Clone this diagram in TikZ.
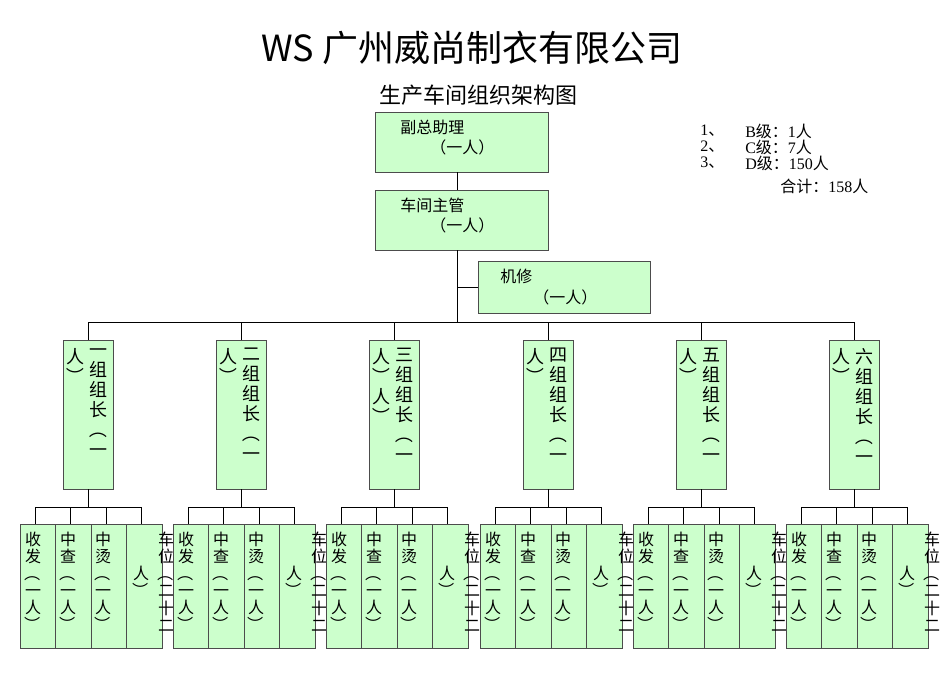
\documentclass[tikz,border=0pt]{standalone}
\usepackage{fontspec}
\usepackage{graphicx}
\setmainfont{Liberation Serif}
\newfontfamily\cjk{Noto Sans CJK SC}
\newcommand\vop{\rotatebox[origin=c]{-90}{（}}
\newcommand\vcp{\rotatebox[origin=c]{-90}{）}}
\begin{document}
\begin{tikzpicture}[x=0.75pt,y=-0.75pt,
  gbox/.style={draw=black!70,fill=green!20,line width=0.6pt,inner sep=0},
  conn/.style={draw=black,line width=0.6pt},
  txt/.style={font=\cjk\fontsize{12}{14}\selectfont,inner sep=0,anchor=west},
  vcw/.style={font=\cjk\fontsize{12}{12.8}\selectfont,inner sep=0,anchor=north,align=center},
  vcl/.style={font=\cjk\fontsize{13.5}{15}\selectfont,inner sep=0,anchor=north,align=center}]
\useasboundingbox (0,0) rectangle (950,672);
\node[font=\cjk\fontsize{27}{30}\selectfont] (title) at (472,48) {WS 广州威尚制衣有限公司};
\node[font=\cjk\fontsize{16.5}{18}\selectfont] (sub) at (478,95) {生产车间组织架构图};
% top boxes
\node[gbox,minimum width=129.75pt,minimum height=45pt] (fz) at (461.5,142) {};
\node[txt] at (400,127) {副总助理};
\node[txt] at (430,147) {（一人）};
\node[gbox,minimum width=129.75pt,minimum height=45pt] (zg) at (461.5,220) {};
\node[txt] at (400,205) {车间主管};
\node[txt] at (430,225) {（一人）};
\node[gbox,minimum width=129pt,minimum height=39pt] (jx) at (564,287) {};
\node[txt] at (500,276) {机修};
\node[txt] at (533,297) {（一人）};
\coordinate (t1) at (457,172); \coordinate (t2) at (457,190);
\draw[conn] (t1) -- (t2);
\coordinate (z1) at (457,250); \coordinate (bus) at (457,322);
\draw[conn] (z1) -- (bus);
\draw[conn] (jx.west) -- (jx.west -| bus);
% legend
\begin{scope}[every node/.style={font=\cjk\fontsize{12}{13}\selectfont,inner sep=0,anchor=west}]
\node at (700,131) {{\rmfamily 1}、};\node at (745,131) {{\rmfamily B}级：{\rmfamily 1}人};
\node at (700,147) {{\rmfamily 2}、};\node at (745,147) {{\rmfamily C}级：{\rmfamily 7}人};
\node at (700,163) {{\rmfamily 3}、};\node at (745,163) {{\rmfamily D}级：{\rmfamily 150}人};
\node at (780,186) {合计：{\rmfamily 158}人};
\end{scope}
\coordinate (busL) at (88,322); \coordinate (busR) at (854,322);
\draw[conn] (busL) -- (busR);
\foreach \i/\cx/\nm/\lt in {1/88/一/人\\\vcp,2/241/二/人\\\vcp,3/394/三/人\\\vcp\\人\\\vcp,4/548/四/人\\\vcp,5/701/五/人\\\vcp,6/854/六/人\\\vcp}{
  \node[gbox,minimum width=37.5pt,minimum height=111.75pt] (L\i) at (\cx,414.5) {};
  \draw[conn] (L\i.north) -- (L\i.north |- busL);
  \node[vcl] at (\cx+10,348) {\nm\\组\\组\\长\\\vop\\一};
  \node[vcl] at (\cx-13,348) {\lt};
  \coordinate (B\i) at (\cx,507);
  \draw[conn] (L\i.south) -- (B\i);
  \foreach \k/\dx in {1/-50.25,2/-14.75,3/20.75,4/56.25}{
    \node[gbox,minimum width=26.625pt,minimum height=93pt] (W\i-\k) at (\cx+\dx,586) {};
    \draw[conn] ([xshift=-2pt]W\i-\k.north) -- ([xshift=-2pt]W\i-\k.north |- B\i);
  }
  \draw[conn] ([xshift=-2pt]W\i-1.north |- B\i) -- ([xshift=-2pt]W\i-4.north |- B\i);
  \node[vcw] at (\cx-55,532) {收\\发\\\vop\\一\\人\\\vcp};
  \node[vcw] at (\cx-20,532) {中\\查\\\vop\\一\\人\\\vcp};
  \node[vcw] at (\cx+15,532) {中\\烫\\\vop\\一\\人\\\vcp};
  \node[vcw] at (\cx+53,566) {人\\\vcp};
  \node[vcw] at (\cx+78,532) {车\\位\\\vop\\二\\十\\二};
}
\end{tikzpicture}
\end{document}
